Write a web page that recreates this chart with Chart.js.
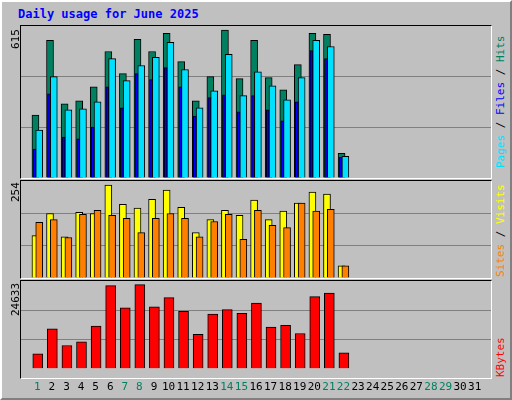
<!DOCTYPE html>
<html>
<head>
<script src="https://cdn.jsdelivr.net/npm/chart.js@4"></script>
<style>
body { margin: 0; background: #fff; }
#frame { position: absolute; left: 0; top: 0; width: 508px; height: 396px; background: #c0c0c0;
  border-top: 2px solid #fff; border-left: 2px solid #fff; border-right: 2px solid #808080; border-bottom: 2px solid #808080; }
#title { position: absolute; left: 18px; top: 7px; font: bold 12px "DejaVu Sans Mono", monospace; color: #0000ff; }
.plot { position: absolute; left: 20px; width: 470px; border-top: 1px solid #000; border-left: 1px solid #000;
  border-right: 1px solid #fff; border-bottom: 1px solid #fff; }
.side { position: absolute; font: 11px "DejaVu Sans Mono", monospace; white-space: nowrap; transform-origin: left top; transform: rotate(-90deg); }
</style>
</head>
<body>
<div id="frame"></div>
<div id="title">Daily usage for June 2025</div>
<div class="plot" style="top:25px;height:152px"><canvas id="c1"></canvas></div>
<div class="plot" style="top:180px;height:97px"><canvas id="c2"></canvas></div>
<div class="plot" style="top:280px;height:97px"></div>
<div style="position:absolute;left:21px;top:281px;width:470px;height:117px"><canvas id="c3"></canvas></div>
<div class="side" style="left:9px;top:49px">615</div>
<div class="side" style="left:9px;top:202px">254</div>
<div class="side" style="left:9px;top:316px">24633</div>
<div class="side" style="left:494px;top:168px"><span style="color:#00e0ff">Pages</span><span style="color:#000"> / </span><span style="color:#0000ff">Files</span><span style="color:#000"> / </span><span style="color:#008060">Hits</span></div>
<div class="side" style="left:494px;top:277px"><span style="color:#ff8000">Sites</span><span style="color:#000"> / </span><span style="color:#ffff00">Visits</span></div>
<div class="side" style="left:494px;top:377px"><span style="color:#ff0000">KBytes</span></div>
<script>
const days = [1,2,3,4,5,6,7,8,9,10,11,12,13,14,15,16,17,18,19,20,21,22];
const weekend = [1,7,8,14,15,21,22,28,29];
const hits  = [255,557,300,312,369,512,422,561,512,585,471,312,410,598,402,557,406,357,459,585,581,100];
const files = [194,410,276,280,308,483,394,455,488,549,439,284,353,500,333,430,373,316,406,557,532,88];
const pages = [117,341,166,158,206,369,284,422,398,447,369,251,325,337,268,333,276,231,308,516,483,84];
const visits = [111,169,108,172,169,243,193,183,206,230,185,119,153,177,164,204,153,175,196,225,220,32];
const sites  = [146,153,106,167,177,164,156,119,156,169,156,108,148,167,101,177,138,132,196,175,180,32];
const kbytes = [4220,11197,6546,7580,11972,23341,17140,23600,17398,19982,16106,9646,15331,16623,15590,18431,11714,12230,9905,20241,21274,4479];

function pts(vals, off) { return vals.map((v, i) => ({x: days[i] + off, y: v})); }
function ds(vals, off, color, w, order) {
    return { data: pts(vals, off), backgroundColor: color, borderColor: '#000', borderWidth: 1,
             barThickness: w, grouped: false, order: order, borderSkipped: 'bottom' };
}
function opts(max, showX) {
    return {
        responsive: true, maintainAspectRatio: false, animation: false,
        layout: { padding: 0 },
        plugins: { legend: { display: false }, tooltip: { enabled: false } },
        scales: {
            x: { type: 'linear', min: 0.4, max: 31.6, display: showX,
                 grid: { display: false }, border: { display: false },
                 afterBuildTicks: s => { s.ticks = []; for (let d = 1; d <= 31; d++) s.ticks.push({value: d}); },
                 ticks: { autoSkip: false, maxRotation: 0, padding: 4, font: { family: 'DejaVu Sans Mono', size: 11 },
                          color: c => weekend.includes(c.tick.value) ? '#008060' : '#000' } },
            y: { min: 0, max: max, ticks: { display: false, stepSize: max / 3 }, border: { display: false },
                 grid: { color: c => (c.tick.value > 0 && c.tick.value < max - 1) ? '#808080' : 'rgba(0,0,0,0)', drawTicks: false, lineWidth: 1 } }
        }
    };
}
new Chart(document.getElementById('c1'), { type: 'bar', data: { datasets: [
    ds(hits, -0.13, '#008060', 7, 3), ds(files, 0.13, '#00e0ff', 7, 2), ds(pages, -0.2, '#0000ff', 3, 1)] },
    options: opts(615, false) });
new Chart(document.getElementById('c2'), { type: 'bar', data: { datasets: [
    ds(visits, -0.13, '#ffff00', 7, 2), ds(sites, 0.13, '#ff8000', 7, 1)] },
    options: opts(254, false) });
new Chart(document.getElementById('c3'), { type: 'bar', data: { datasets: [
    ds(kbytes, 0.03, '#ff0000', 10, 1)] },
    options: opts(24633, true) });
</script>
</body>
</html>
